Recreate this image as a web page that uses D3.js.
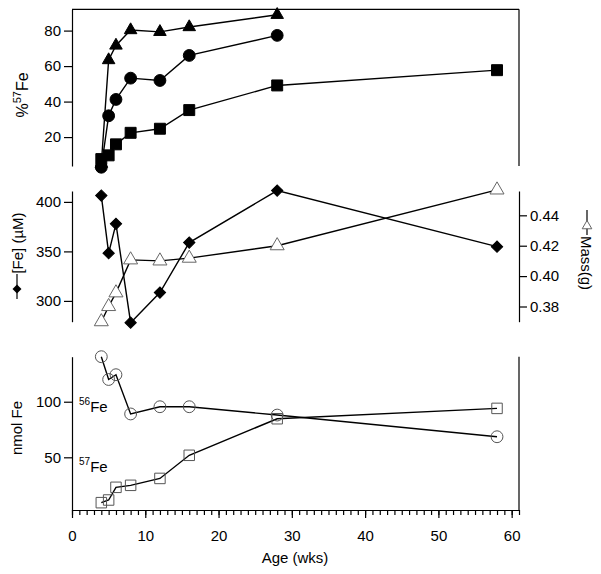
<!DOCTYPE html>
<html>
<head>
<meta charset="utf-8">
<script src="https://cdn.jsdelivr.net/npm/d3@7"></script>
<style>
body{margin:0;background:#fff;}
svg text{font-family:"Liberation Sans",Arial,sans-serif;fill:#000;}
</style>
</head>
<body>
<svg id="c" width="601" height="574"></svg>
<script>
// ---- data ----
const weeks = [4,5,6,8,12,16,28,58];
const pctTriangle = [5,63.4,71.6,80.3,79.3,82,88.9];
const pctCircle = [3,32,41.2,53.2,51.9,66,77.3];
const pctSquare = [7.6,9.7,15.9,22.4,24.7,35.2,49.1,57.7];
const feConc = [406.4,348.2,377.8,278,308.4,358.9,411.4,354.8];
const massG = [0.370,0.380,0.389,0.4107,0.410,0.4118,0.420,0.4567];
const fe56 = [140.5,120,124.3,89,95.5,95.5,88,68.5];
const fe57 = [9.2,11.6,23,24.8,31,51.8,84.7,94];
const xTicks = [0,10,20,30,40,50,60];
const pctTicks = [20,40,60,80];
const feTicks = [300,350,400];
const massTicks = [0.38,0.40,0.42,0.44];
const nmolTicks = [50,100];

const svg = d3.select("#c");
const L = 72, R = 519;
const x = d3.scaleLinear([0,61],[L,R]);
const yTop = d3.scaleLinear([3.7,92],[166,9.3]);
const yFe = d3.scaleLinear([279,411],[321.7,191]);
const yMass = d3.scaleLinear([0.370,0.456],[321.7,191]);
const yNm = d3.scaleLinear([2.6,140.5],[510,356.7]);

function styleAxis(g){
  g.selectAll("path,line").attr("stroke","#000").attr("stroke-width",1.2);
  g.selectAll("text").style("font-size","15px").attr("fill","#000");
}
function vline(xp,y1,y2){
  svg.append("line").attr("x1",xp).attr("x2",xp).attr("y1",y1).attr("y2",y2)
    .attr("stroke","#000").attr("stroke-width",1.2);
}

// ---- top panel ----
svg.append("g").attr("transform",`translate(${L},0)`)
  .call(d3.axisLeft(yTop).tickValues(pctTicks).tickSize(8).tickSizeOuter(0).tickPadding(3))
  .call(styleAxis);
svg.append("line").attr("x1",L).attr("x2",R).attr("y1",9.3).attr("y2",9.3).attr("stroke","#000").attr("stroke-width",1.2);
vline(R,9.3,166);

const line = (ys,yScale)=>d3.line().x((d,i)=>x(weeks[i])).y(d=>yScale(d))(ys);
function drawLine(ys,yScale){
  svg.append("path").attr("d",line(ys,yScale)).attr("fill","none").attr("stroke","#000").attr("stroke-width",1.4);
}
const sym = (type,size)=>d3.symbol().type(type).size(size)();
function markers(ys,yScale,type,size,fill,stroke,rot){
  svg.append("g").selectAll("path").data(ys).join("path")
    .attr("transform",(d,i)=>`translate(${x(weeks[i])},${yScale(d)})` + (rot?` rotate(${rot})`:""))
    .attr("d",sym(type,size)).attr("fill",fill).attr("stroke",stroke).attr("stroke-width",1);
}
drawLine(pctSquare,yTop); drawLine(pctCircle,yTop); drawLine(pctTriangle,yTop);
markers(pctSquare,yTop,d3.symbolSquare,120,"#000","#000");
markers(pctCircle,yTop,d3.symbolCircle,110,"#000","#000");
markers(pctTriangle,yTop,d3.symbolTriangle,68,"#000","#000");

// label %57Fe
const t1 = svg.append("text").attr("transform","translate(28,95) rotate(-90)").attr("text-anchor","middle").style("font-size","16px");
t1.append("tspan").text("%");
t1.append("tspan").text("57").style("font-size","11px").attr("dy",-7);
t1.append("tspan").text("Fe").attr("dy",7);

// ---- middle panel ----
svg.append("g").attr("transform",`translate(${L},0)`)
  .call(d3.axisLeft(yFe).tickValues(feTicks).tickSize(8).tickSizeOuter(0).tickPadding(3))
  .call(styleAxis);
svg.append("g").attr("transform",`translate(${R},0)`)
  .call(d3.axisRight(yMass).tickValues(massTicks).tickSize(8).tickSizeOuter(0).tickPadding(3).tickFormat(d3.format(".2f")))
  .call(styleAxis);
drawLine(massG,yMass); drawLine(feConc,yFe);
markers(massG,yMass,d3.symbolTriangle,85,"#fff","#666");
markers(feConc,yFe,d3.symbolSquare,64,"#000","#000",45);

// left label with diamond key
svg.append("text").attr("transform","translate(23,243) rotate(-90)").attr("text-anchor","middle")
  .style("font-size","15px").text("[Fe] (µM)");
vline(17,274,299);
svg.append("path").attr("transform","translate(17,289) rotate(45)").attr("d",sym(d3.symbolSquare,40)).attr("fill","#000");
// right label with triangle key
svg.append("text").attr("transform","translate(581,263) rotate(90)").attr("text-anchor","middle")
  .style("font-size","15px").text("Mass(g)");
vline(587,210,235);
svg.append("path").attr("transform","translate(587,226)").attr("d",sym(d3.symbolTriangle,40)).attr("fill","#fff").attr("stroke","#666");

// ---- bottom panel ----
svg.append("g").attr("transform",`translate(${L},0)`)
  .call(d3.axisLeft(yNm).tickValues(nmolTicks).tickSize(8).tickSizeOuter(0).tickPadding(3))
  .call(styleAxis);
vline(R,356.7,510);
const gx = svg.append("g").attr("transform","translate(0,510)");
gx.call(d3.axisBottom(x).tickValues(d3.range(0,62,1)).tickSize(5).tickSizeOuter(0).tickFormat(""))
  .call(styleAxis);
const gx2 = svg.append("g").attr("transform","translate(0,510)");
gx2.call(d3.axisBottom(x).tickValues(xTicks).tickSize(8).tickSizeOuter(0).tickPadding(12))
  .call(styleAxis);
gx2.select(".domain").remove();

drawLine(fe56,yNm); drawLine(fe57,yNm);
markers(fe56,yNm,d3.symbolCircle,110,"none","#555");
markers(fe57,yNm,d3.symbolSquare,110,"none","#555");

svg.append("text").attr("transform","translate(17,428) rotate(-90)").attr("text-anchor","middle").attr("dy","0.35em")
  .style("font-size","15px").text("nmol Fe");
function isoLabel(num,yp){
  const t = svg.append("text").attr("x",79).attr("y",yp).style("font-size","15px");
  t.append("tspan").text(num).style("font-size","10px").attr("dy",-7);
  t.append("tspan").text("Fe").attr("dy",7);
}
isoLabel("56",412); isoLabel("57",472);

svg.append("text").attr("x",295).attr("y",563).attr("text-anchor","middle").style("font-size","15px").text("Age (wks)");
</script>
</body>
</html>
